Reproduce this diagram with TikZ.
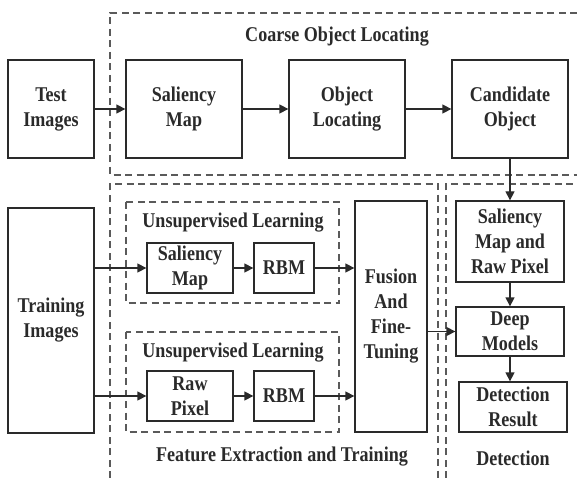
\documentclass[tikz,border=0pt]{standalone}
\usepackage{fontspec}
\setmainfont{Liberation Serif}[FakeStretch=0.86]
\usetikzlibrary{arrows.meta}
\definecolor{ink}{HTML}{2A2A2A}
\definecolor{dashgray}{HTML}{5A5A5A}
\tikzset{
  box/.style={draw=ink, line width=1.3pt, inner sep=0pt, align=center, text=ink,
    font=\fontsize{21}{25}\selectfont\bfseries},
  lbl/.style={inner sep=0pt, text=ink, font=\fontsize{21}{25}\selectfont\bfseries},
  region/.style={draw=dashgray, line width=1.2pt, dash pattern=on 7pt off 4.5pt},
  arr/.style={draw=ink, line width=1.3pt, -{Triangle[length=9pt,width=9pt]}}
}
\begin{document}
\begin{tikzpicture}[x=1pt,y=-1pt]
\useasboundingbox (0,0) rectangle (577,478);
% dashed regions
\draw[region] (577,13) -- (110,13) -- (110,175) -- (577,175);
\draw[region] (110,478) -- (110,184) -- (438,184) -- (438,478);
\draw[region] (446,478) -- (446,184) -- (577,184);
\draw[region] (126,202) rectangle (339,303);
\draw[region] (126,332) rectangle (339,432);
% labels
\node[lbl] (tcoarse) at (337,37) {Coarse Object Locating};
\node[lbl] (tul1) at (233,223) {Unsupervised Learning};
\node[lbl] (tul2) at (233,353) {Unsupervised Learning};
\node[lbl] (tfeat) at (282,457) {Feature Extraction and Training};
\node[lbl] (tdet) at (513,458) {Detection};
% top row
\node[box, minimum width=86pt, minimum height=98pt] (test) at (51,109) {Test\\Images};
\node[box, minimum width=116pt, minimum height=98pt] (sal) at (184,109) {Saliency\\Map};
\node[box, minimum width=116pt, minimum height=98pt] (loc) at (347,109) {Object\\Locating};
\node[box, minimum width=116pt, minimum height=98pt] (cand) at (510,109) {Candidate\\Object};
% training
\node[box, minimum width=86pt, minimum height=225pt] (train) at (51,320.5) {Training\\Images};
\node[box, minimum width=86pt, minimum height=50pt] (sal2) at (190,268) {Saliency\\Map};
\node[box, minimum width=60pt, minimum height=50pt] (rbm1) at (284,268) {RBM};
\node[box, minimum width=86pt, minimum height=50pt] (raw) at (190,396) {Raw\\Pixel};
\node[box, minimum width=60pt, minimum height=50pt] (rbm2) at (284,396) {RBM};
\node[box, minimum width=72pt, minimum height=231pt] (fus) at (391,316.5) {Fusion\\And\\Fine-\\Tuning};
% detection
\node[box, minimum width=108pt, minimum height=81pt] (smrp) at (510,241.5) {Saliency\\Map and\\Raw Pixel};
\node[box, minimum width=108pt, minimum height=49pt] (deep) at (510,331.5) {Deep\\Models};
\node[box, minimum width=108pt, minimum height=50pt] (res) at (513,407) {Detection\\Result};
% arrows
\draw[arr] (test) -- (sal);
\draw[arr] (sal) -- (loc);
\draw[arr] (loc) -- (cand);
\draw[arr] (cand.south) -- (smrp.north);
\draw[arr] (smrp.south) -- (deep.north);
\draw[arr] (deep.south) -- (deep.south |- res.north);
\draw[arr] (sal2.west -| train.east) -- (sal2.west);
\draw[arr] (raw.west -| train.east) -- (raw.west);
\draw[arr] (sal2) -- (rbm1);
\draw[arr] (raw) -- (rbm2);
\draw[arr] (rbm1.east) -- (rbm1.east -| fus.west);
\draw[arr] (rbm2.east) -- (rbm2.east -| fus.west);
\draw[arr] (deep.west -| fus.east) -- (deep.west);
\end{tikzpicture}
\end{document}
